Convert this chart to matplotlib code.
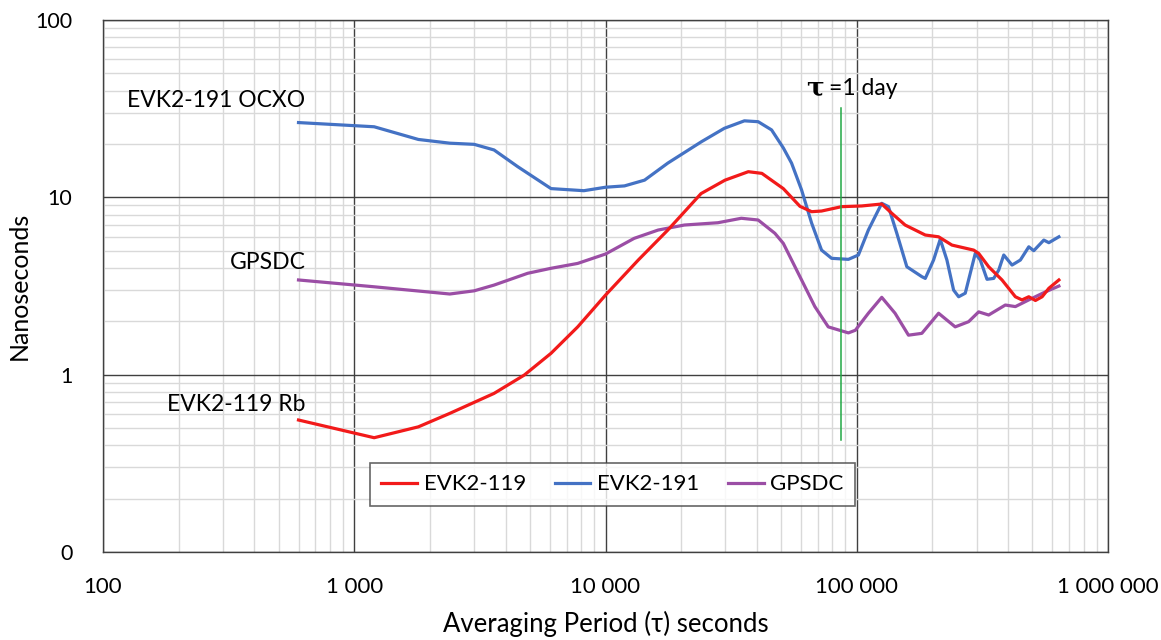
import matplotlib
matplotlib.use("Agg")
import matplotlib.pyplot as plt
from matplotlib.ticker import FixedLocator, LogLocator, NullFormatter

plt.rcParams["font.family"] = ["Lato", "DejaVu Sans"]

# averaging period (s) and deviation (ns)
tau_119 = [600, 1200, 1800, 2400, 3600, 4750, 6070, 7750, 10000, 13500, 17700,
           24000, 29900, 37000, 41900, 51000, 59400, 66100, 72400, 87000, 104600,
           125700, 137800, 155700, 187300, 211600, 239100, 291900, 305500, 334900,
           378400, 427700, 454400, 483600, 514000, 546500, 581300, 637300]
ns_119 = [0.555, 0.441, 0.508, 0.605, 0.784, 0.995, 1.32, 1.86, 2.81, 4.43, 6.54,
          10.5, 12.5, 13.95, 13.65, 11.2, 8.9, 8.3, 8.37, 8.86, 8.94,
          9.17, 8.13, 6.98, 6.13, 5.99, 5.38, 5.04, 4.83, 4.06,
          3.42, 2.75, 2.64, 2.75, 2.62, 2.75, 3.07, 3.42]

tau_191 = [600, 1200, 1800, 2400, 3000, 3600, 4470, 6070, 8200, 10000, 11900,
           14300, 17700, 24100, 29700, 35700, 40500, 45800, 51000, 55000, 60300,
           66100, 72400, 79400, 92600, 101500, 111200, 125700, 133700, 144300,
           158200, 181500, 187300, 202100, 214800, 228400, 242800, 254300, 270200,
           296200, 310100, 329800, 350700, 367200, 384500, 414800, 447700, 483600,
           506200, 555000, 581300, 637300]
ns_191 = [26.4, 25.0, 21.2, 20.2, 19.9, 18.5, 14.9, 11.2, 10.9, 11.4, 11.6,
          12.5, 15.6, 20.6, 24.5, 27.0, 26.7, 24.0, 19.0, 15.6, 11.0,
          7.16, 5.04, 4.53, 4.47, 4.73, 6.54, 9.25, 8.86, 6.27,
          4.06, 3.57, 3.49, 4.43, 5.80, 4.43, 3.0, 2.75, 2.88,
          4.83, 4.43, 3.45, 3.49, 3.89, 4.73, 4.15, 4.43, 5.26,
          5.0, 5.74, 5.55, 5.99]

tau_gps = [600, 1200, 2400, 3000, 3600, 4900, 6070, 7750, 10000, 13000, 16200,
           20600, 28000, 34700, 40500, 47200, 51000, 60300, 68100, 77000, 92600,
           98700, 111200, 125700, 142000, 160600, 181500, 211600, 246400, 278700,
           305500, 334900, 390100, 427700, 483600, 563300, 637300]
ns_gps = [3.42, 3.13, 2.85, 2.97, 3.20, 3.73, 3.98, 4.24, 4.79, 5.87, 6.54,
          6.98, 7.19, 7.62, 7.45, 6.27, 5.5, 3.42, 2.42, 1.86, 1.72,
          1.78, 2.22, 2.73, 2.22, 1.67, 1.71, 2.22, 1.86, 1.99,
          2.26, 2.17, 2.47, 2.42, 2.64, 2.93, 3.16]

one_day = 86400
x_ticks = [100, 1000, 10000, 100000, 1000000]
x_labels = ["100", "1 000", "10 000", "100 000", "1 000 000"]
y_ticks = [0.1, 1, 10, 100]
y_labels = ["0", "1", "10", "100"]

fig = plt.figure(figsize=(11.61, 6.4), dpi=100)
ax = fig.add_axes([0.0887, 0.1375, 0.8657, 0.83125])
ax.set_xscale("log")
ax.set_yscale("log")
ax.set_xlim(100, 1e6)
ax.set_ylim(0.1, 100)

lw = 2.3
ax.plot(tau_119, ns_119, color="#f21a1a", lw=lw, solid_joinstyle="round", label="EVK2-119", zorder=4)
ax.plot(tau_191, ns_191, color="#4472c4", lw=lw, solid_joinstyle="round", label="EVK2-191", zorder=3)
ax.plot(tau_gps, ns_gps, color="#9b4ea5", lw=lw, solid_joinstyle="round", label="GPSDC", zorder=3)

# one day marker
ax.plot([one_day, one_day], [0.43, 32], color="#22a845", lw=1.1, zorder=5)
ax.text(73800, 41.5, "τ", ha="right", va="center", fontsize=19,
        fontweight="bold", family=["DejaVu Serif"])
ax.text(77500, 41, "=1 day", ha="left", va="center", fontsize=16.5)

# series labels
ax.text(640, 35, "EVK2-191 OCXO", ha="right", va="center", fontsize=16.5)
ax.text(640, 4.3, "GPSDC", ha="right", va="center", fontsize=16.5)
ax.text(640, 0.68, "EVK2-119 Rb", ha="right", va="center", fontsize=16.5)

# grid
ax.xaxis.set_major_locator(FixedLocator(x_ticks))
ax.yaxis.set_major_locator(FixedLocator(y_ticks))
ax.xaxis.set_minor_locator(LogLocator(base=10, subs=range(2, 10)))
ax.yaxis.set_minor_locator(LogLocator(base=10, subs=range(2, 10)))
ax.xaxis.set_minor_formatter(NullFormatter())
ax.yaxis.set_minor_formatter(NullFormatter())
ax.set_xticklabels(x_labels)
ax.set_yticklabels(y_labels)
ax.grid(which="minor", color="#d9d9d9", lw=1.0)
ax.grid(which="major", color="#404040", lw=1.0)
ax.set_axisbelow(True)
ax.tick_params(which="both", length=0)
ax.tick_params(axis="x", pad=18, labelsize=16)
ax.tick_params(axis="y", pad=22, labelsize=15.5)
for s in ax.spines.values():
    s.set_color("#404040")
    s.set_linewidth(1.0)

ax.set_xlabel("Averaging Period (τ) seconds", fontsize=18.5, labelpad=10)
ax.set_ylabel("Nanoseconds", fontsize=18, labelpad=3)

leg = ax.legend(loc="center", bbox_to_anchor=(0.507, 0.127), ncol=3, fontsize=16,
                frameon=True, fancybox=False, edgecolor="#404040",
                handlelength=1.6, handletextpad=0.3, columnspacing=1.3,
                borderpad=0.5)
leg.get_frame().set_linewidth(1.2)

fig.savefig("out.png", dpi=100)
